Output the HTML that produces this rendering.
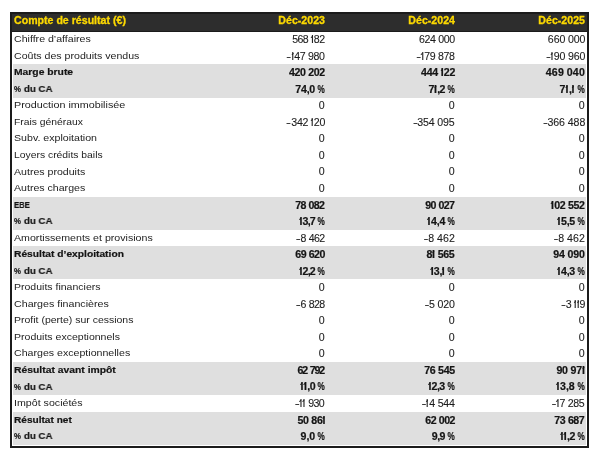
<!DOCTYPE html><html><head><meta charset="utf-8"><style>
html,body{margin:0;padding:0;background:#fff;width:600px;height:457px;overflow:hidden;position:relative}
.t{position:absolute;will-change:transform;font-family:"Liberation Sans",sans-serif;font-size:9.8px;line-height:16px;white-space:pre;color:#1c1c1c}
.b{font-weight:bold;color:#141414}
.l{transform-origin:0 50%}
.r{text-align:right}
.i1{position:relative}
.i1::before{content:"";position:absolute;left:-0.7px;top:2.0px;width:2.0px;height:1.0px;background:currentColor;transform:rotate(-40deg);transform-origin:100% 0}
.one{display:inline-block;position:relative;height:6.8px}
.one::before{content:"";position:absolute;right:0.8px;bottom:0;width:1.0px;height:6.8px;background:currentColor}
.one::after{content:"";position:absolute;right:1.6px;top:0.35px;width:1.2px;height:1.0px;background:currentColor;transform:rotate(-38deg);transform-origin:100% 0}
.b .one::before{width:1.6px;right:0.7000000000000001px}
.b .one::after{right:2.1000000000000005px;height:1.6px}
.b.l{-webkit-text-stroke:0.2px #141414}
.b.r:not(.h){-webkit-text-stroke:0.2px #141414}
.t.r:not(.b){-webkit-text-stroke:0.1px #1c1c1c}
.g{position:absolute;background:#dfdfdf}
.h{color:#fcd800;-webkit-text-stroke:0.3px #fcd800}
</style></head><body>
<div style="position:absolute;left:10px;top:12px;width:579px;height:436px;border:2px solid #1b1b1b;background:#fff;box-sizing:border-box"></div>
<div style="position:absolute;left:10px;top:12px;width:579px;height:20.00px;background:#1b1b1b"></div>
<div style="position:absolute;left:12px;top:14px;width:575px;height:17.00px;background:#2d2d2d"></div>
<div class="g" style="left:13px;top:64.48px;width:573px;height:16.54px"></div>
<div class="g" style="left:13px;top:81.02px;width:573px;height:16.54px"></div>
<div class="g" style="left:13px;top:196.80px;width:573px;height:16.54px"></div>
<div class="g" style="left:13px;top:213.34px;width:573px;height:16.54px"></div>
<div class="g" style="left:13px;top:246.42px;width:573px;height:16.54px"></div>
<div class="g" style="left:13px;top:262.96px;width:573px;height:16.54px"></div>
<div class="g" style="left:13px;top:362.20px;width:573px;height:16.54px"></div>
<div class="g" style="left:13px;top:378.74px;width:573px;height:16.54px"></div>
<div class="g" style="left:13px;top:411.82px;width:573px;height:16.54px"></div>
<div class="g" style="left:13px;top:428.36px;width:573px;height:16.54px"></div>
<div class="t b h" style="left:14.0px;top:12.73px;font-size:10.0px;transform:scaleX(1.06);transform-origin:0 50%">Compte de résultat (€)</div>
<div class="t b h r" style="right:274.70px;top:12.73px;font-size:10.0px;transform:scaleX(1.06);transform-origin:100% 50%">Déc-2023</div>
<div class="t b h r" style="right:144.70px;top:12.73px;font-size:10.0px;transform:scaleX(1.06);transform-origin:100% 50%">Déc-2024</div>
<div class="t b h r" style="right:14.70px;top:12.73px;font-size:10.0px;transform:scaleX(1.06);transform-origin:100% 50%">Déc-2025</div>
<div class="t l" style="left:14.0px;top:31.20px;font-size:9.8px;transform:scaleX(1.0818)">Chiffre d’affaires</div>
<div class="t r" style="right:275.00px;top:32.13px;font-size:10.0px;transform:scaleX(1.06);transform-origin:100% 50%"><span style="letter-spacing:-0.54px">5</span><span style="letter-spacing:-0.54px">6</span><span style="letter-spacing:-0.54px">8</span><span style="letter-spacing:-0.20px">&nbsp;</span><span class="i1" style="letter-spacing:-0.04px;margin-left:0.0px">I</span><span style="letter-spacing:-0.54px">8</span>2</div>
<div class="t r" style="right:145.00px;top:32.13px;font-size:10.0px;transform:scaleX(1.06);transform-origin:100% 50%"><span style="letter-spacing:-0.36px">6</span><span style="letter-spacing:-0.36px">2</span><span style="letter-spacing:-0.36px">4</span><span style="letter-spacing:-0.20px">&nbsp;</span><span style="letter-spacing:-0.36px">0</span><span style="letter-spacing:-0.36px">0</span>0</div>
<div class="t r" style="right:15.00px;top:32.13px;font-size:10.0px;transform:scaleX(1.06);transform-origin:100% 50%"><span style="letter-spacing:-0.10px">6</span><span style="letter-spacing:-0.10px">6</span><span style="letter-spacing:-0.10px">0</span><span style="letter-spacing:-0.20px">&nbsp;</span><span style="letter-spacing:-0.10px">0</span><span style="letter-spacing:-0.10px">0</span>0</div>
<div class="t l" style="left:14.0px;top:47.74px;font-size:9.8px;transform:scaleX(1.0806)">Coûts des produits vendus</div>
<div class="t r" style="right:275.00px;top:48.67px;font-size:10.0px;transform:scaleX(1.06);transform-origin:100% 50%"><span style="display:inline-block;width:4.20px;text-align:center;margin-right:0.0px"><span style="display:inline-block;transform:scaleX(1.4)">-</span></span><span class="i1" style="letter-spacing:0.10px;margin-left:0.0px">I</span><span style="letter-spacing:-0.40px">4</span><span style="letter-spacing:-0.40px">7</span><span style="letter-spacing:-0.20px">&nbsp;</span><span style="letter-spacing:-0.40px">9</span><span style="letter-spacing:-0.40px">8</span>0</div>
<div class="t r" style="right:145.00px;top:48.67px;font-size:10.0px;transform:scaleX(1.06);transform-origin:100% 50%"><span style="display:inline-block;width:4.18px;text-align:center;margin-right:0.0px"><span style="display:inline-block;transform:scaleX(1.4)">-</span></span><span class="i1" style="letter-spacing:0.08px;margin-left:0.0px">I</span><span style="letter-spacing:-0.42px">7</span><span style="letter-spacing:-0.42px">9</span><span style="letter-spacing:-0.20px">&nbsp;</span><span style="letter-spacing:-0.42px">8</span><span style="letter-spacing:-0.42px">7</span>8</div>
<div class="t r" style="right:15.00px;top:48.67px;font-size:10.0px;transform:scaleX(1.06);transform-origin:100% 50%"><span style="display:inline-block;width:4.45px;text-align:center;margin-right:0.0px"><span style="display:inline-block;transform:scaleX(1.4)">-</span></span><span class="i1" style="letter-spacing:0.35px;margin-left:0.0px">I</span><span style="letter-spacing:-0.15px">9</span><span style="letter-spacing:-0.15px">0</span><span style="letter-spacing:-0.20px">&nbsp;</span><span style="letter-spacing:-0.15px">9</span><span style="letter-spacing:-0.15px">6</span>0</div>
<div class="t b l" style="left:14.0px;top:64.28px;font-size:9.8px;transform:scaleX(1.0541)">Marge brute</div>
<div class="t b r" style="right:275.00px;top:65.21px;font-size:10.0px;transform:scaleX(1.06);transform-origin:100% 50%"><span style="letter-spacing:-0.38px">4</span><span style="letter-spacing:-0.38px">2</span><span style="letter-spacing:-0.38px">0</span><span style="letter-spacing:-0.20px">&nbsp;</span><span style="letter-spacing:-0.38px">2</span><span style="letter-spacing:-0.38px">0</span>2</div>
<div class="t b r" style="right:145.00px;top:65.21px;font-size:10.0px;transform:scaleX(1.06);transform-origin:100% 50%"><span style="letter-spacing:-0.28px">4</span><span style="letter-spacing:-0.28px">4</span><span style="letter-spacing:-0.28px">4</span><span style="letter-spacing:-0.20px">&nbsp;</span><span class="i1" style="letter-spacing:0.22px;margin-left:0.0px">I</span><span style="letter-spacing:-0.28px">2</span>2</div>
<div class="t b r" style="right:15.00px;top:65.21px;font-size:10.0px;transform:scaleX(1.06);transform-origin:100% 50%"><span style="letter-spacing:0.16px">4</span><span style="letter-spacing:0.16px">6</span><span style="letter-spacing:0.16px">9</span><span style="letter-spacing:-0.20px">&nbsp;</span><span style="letter-spacing:0.16px">0</span><span style="letter-spacing:0.16px">4</span>0</div>
<div class="t b l" style="left:14.0px;top:80.82px;font-size:9.8px;transform:scaleX(0.9917)"><span style="display:inline-block;width:7.2px"><span style="display:inline-block;transform:scaleX(0.8);transform-origin:0 50%">%</span></span> du CA</div>
<div class="t b r" style="right:275.00px;top:81.75px;font-size:10.0px;transform:scaleX(1.06);transform-origin:100% 50%"><span style="letter-spacing:-0.15px">7</span><span style="letter-spacing:-0.15px">4</span><span style="letter-spacing:-0.45px">,</span><span style="letter-spacing:-0.15px">0</span><span style="letter-spacing:-0.50px">&nbsp;</span><span style="display:inline-block;width:7.0px"><span style="display:inline-block;transform:scaleX(0.77);transform-origin:0 50%">%</span></span></div>
<div class="t b r" style="right:145.00px;top:81.75px;font-size:10.0px;transform:scaleX(1.06);transform-origin:100% 50%"><span style="letter-spacing:-0.33px">7</span><span class="i1" style="letter-spacing:0.17px;margin-left:0.0px">I</span><span style="letter-spacing:-0.63px">,</span><span style="letter-spacing:-0.33px">2</span><span style="letter-spacing:-0.50px">&nbsp;</span><span style="display:inline-block;width:7.0px"><span style="display:inline-block;transform:scaleX(0.77);transform-origin:0 50%">%</span></span></div>
<div class="t b r" style="right:15.00px;top:81.75px;font-size:10.0px;transform:scaleX(1.06);transform-origin:100% 50%">7<span class="i1" style="letter-spacing:0.50px;margin-left:0.0px">I</span><span style="letter-spacing:-0.30px">,</span><span class="i1" style="letter-spacing:0.50px;margin-left:0.0px">I</span><span style="letter-spacing:-0.50px">&nbsp;</span><span style="display:inline-block;width:7.0px"><span style="display:inline-block;transform:scaleX(0.77);transform-origin:0 50%">%</span></span></div>
<div class="t l" style="left:14.0px;top:97.36px;font-size:9.8px;transform:scaleX(1.0983)">Production immobilisée</div>
<div class="t r" style="right:275.00px;top:98.30px;font-size:10.0px;transform:scaleX(1.06);transform-origin:100% 50%">0</div>
<div class="t r" style="right:145.00px;top:98.30px;font-size:10.0px;transform:scaleX(1.06);transform-origin:100% 50%">0</div>
<div class="t r" style="right:15.00px;top:98.30px;font-size:10.0px;transform:scaleX(1.06);transform-origin:100% 50%">0</div>
<div class="t l" style="left:14.0px;top:113.90px;font-size:9.8px;transform:scaleX(1.0544)">Frais généraux</div>
<div class="t r" style="right:275.00px;top:114.83px;font-size:10.0px;transform:scaleX(1.06);transform-origin:100% 50%"><span style="display:inline-block;width:4.27px;text-align:center;margin-right:0.0px"><span style="display:inline-block;transform:scaleX(1.4)">-</span></span><span style="letter-spacing:-0.33px">3</span><span style="letter-spacing:-0.33px">4</span><span style="letter-spacing:-0.33px">2</span><span style="letter-spacing:-0.20px">&nbsp;</span><span class="i1" style="letter-spacing:0.17px;margin-left:0.0px">I</span><span style="letter-spacing:-0.33px">2</span>0</div>
<div class="t r" style="right:145.00px;top:114.83px;font-size:10.0px;transform:scaleX(1.06);transform-origin:100% 50%"><span style="display:inline-block;width:4.43px;text-align:center;margin-right:0.0px"><span style="display:inline-block;transform:scaleX(1.4)">-</span></span><span style="letter-spacing:-0.17px">3</span><span style="letter-spacing:-0.17px">5</span><span style="letter-spacing:-0.17px">4</span><span style="letter-spacing:-0.20px">&nbsp;</span><span style="letter-spacing:-0.17px">0</span><span style="letter-spacing:-0.17px">9</span>5</div>
<div class="t r" style="right:15.00px;top:114.83px;font-size:10.0px;transform:scaleX(1.06);transform-origin:100% 50%"><span style="display:inline-block;width:4.55px;text-align:center;margin-right:0.0px"><span style="display:inline-block;transform:scaleX(1.4)">-</span></span><span style="letter-spacing:-0.05px">3</span><span style="letter-spacing:-0.05px">6</span><span style="letter-spacing:-0.05px">6</span><span style="letter-spacing:-0.20px">&nbsp;</span><span style="letter-spacing:-0.05px">4</span><span style="letter-spacing:-0.05px">8</span>8</div>
<div class="t l" style="left:14.0px;top:130.44px;font-size:9.8px;transform:scaleX(1.0836)">Subv. exploitation</div>
<div class="t r" style="right:275.00px;top:131.37px;font-size:10.0px;transform:scaleX(1.06);transform-origin:100% 50%">0</div>
<div class="t r" style="right:145.00px;top:131.37px;font-size:10.0px;transform:scaleX(1.06);transform-origin:100% 50%">0</div>
<div class="t r" style="right:15.00px;top:131.37px;font-size:10.0px;transform:scaleX(1.06);transform-origin:100% 50%">0</div>
<div class="t l" style="left:14.0px;top:146.98px;font-size:9.8px;transform:scaleX(1.0570)">Loyers crédits bails</div>
<div class="t r" style="right:275.00px;top:147.91px;font-size:10.0px;transform:scaleX(1.06);transform-origin:100% 50%">0</div>
<div class="t r" style="right:145.00px;top:147.91px;font-size:10.0px;transform:scaleX(1.06);transform-origin:100% 50%">0</div>
<div class="t r" style="right:15.00px;top:147.91px;font-size:10.0px;transform:scaleX(1.06);transform-origin:100% 50%">0</div>
<div class="t l" style="left:14.0px;top:163.52px;font-size:9.8px;transform:scaleX(1.0807)">Autres produits</div>
<div class="t r" style="right:275.00px;top:164.45px;font-size:10.0px;transform:scaleX(1.06);transform-origin:100% 50%">0</div>
<div class="t r" style="right:145.00px;top:164.45px;font-size:10.0px;transform:scaleX(1.06);transform-origin:100% 50%">0</div>
<div class="t r" style="right:15.00px;top:164.45px;font-size:10.0px;transform:scaleX(1.06);transform-origin:100% 50%">0</div>
<div class="t l" style="left:14.0px;top:180.06px;font-size:9.8px;transform:scaleX(1.0807)">Autres charges</div>
<div class="t r" style="right:275.00px;top:180.99px;font-size:10.0px;transform:scaleX(1.06);transform-origin:100% 50%">0</div>
<div class="t r" style="right:145.00px;top:180.99px;font-size:10.0px;transform:scaleX(1.06);transform-origin:100% 50%">0</div>
<div class="t r" style="right:15.00px;top:180.99px;font-size:10.0px;transform:scaleX(1.06);transform-origin:100% 50%">0</div>
<div class="t b l" style="left:14.0px;top:196.60px;font-size:9.8px;transform:scaleX(0.7888)">EBE</div>
<div class="t b r" style="right:275.00px;top:197.53px;font-size:10.0px;transform:scaleX(1.06);transform-origin:100% 50%"><span style="letter-spacing:-0.65px">7</span><span style="letter-spacing:-0.65px">8</span><span style="letter-spacing:-0.20px">&nbsp;</span><span style="letter-spacing:-0.65px">0</span><span style="letter-spacing:-0.65px">8</span>2</div>
<div class="t b r" style="right:145.00px;top:197.53px;font-size:10.0px;transform:scaleX(1.06);transform-origin:100% 50%"><span style="letter-spacing:-0.65px">9</span><span style="letter-spacing:-0.65px">0</span><span style="letter-spacing:-0.20px">&nbsp;</span><span style="letter-spacing:-0.65px">0</span><span style="letter-spacing:-0.65px">2</span>7</div>
<div class="t b r" style="right:15.00px;top:197.53px;font-size:10.0px;transform:scaleX(1.06);transform-origin:100% 50%"><span class="i1" style="letter-spacing:0.14px;margin-left:0.0px">I</span><span style="letter-spacing:-0.36px">0</span><span style="letter-spacing:-0.36px">2</span><span style="letter-spacing:-0.20px">&nbsp;</span><span style="letter-spacing:-0.36px">5</span><span style="letter-spacing:-0.36px">5</span>2</div>
<div class="t b l" style="left:14.0px;top:213.14px;font-size:9.8px;transform:scaleX(0.9917)"><span style="display:inline-block;width:7.2px"><span style="display:inline-block;transform:scaleX(0.8);transform-origin:0 50%">%</span></span> du CA</div>
<div class="t b r" style="right:275.00px;top:214.07px;font-size:10.0px;transform:scaleX(1.06);transform-origin:100% 50%"><span class="i1" style="letter-spacing:-0.08px;margin-left:0.0px">I</span><span style="letter-spacing:-0.58px">3</span><span style="letter-spacing:-0.88px">,</span><span style="letter-spacing:-0.58px">7</span><span style="letter-spacing:-0.50px">&nbsp;</span><span style="display:inline-block;width:7.0px"><span style="display:inline-block;transform:scaleX(0.77);transform-origin:0 50%">%</span></span></div>
<div class="t b r" style="right:145.00px;top:214.07px;font-size:10.0px;transform:scaleX(1.06);transform-origin:100% 50%"><span class="i1" style="letter-spacing:0.48px;margin-left:0.0px">I</span><span style="letter-spacing:-0.02px">4</span><span style="letter-spacing:-0.32px">,</span><span style="letter-spacing:-0.02px">4</span><span style="letter-spacing:-0.50px">&nbsp;</span><span style="display:inline-block;width:7.0px"><span style="display:inline-block;transform:scaleX(0.77);transform-origin:0 50%">%</span></span></div>
<div class="t b r" style="right:15.00px;top:214.07px;font-size:10.0px;transform:scaleX(1.06);transform-origin:100% 50%"><span class="i1" style="letter-spacing:0.47px;margin-left:0.0px">I</span><span style="letter-spacing:-0.03px">5</span><span style="letter-spacing:-0.33px">,</span><span style="letter-spacing:-0.03px">5</span><span style="letter-spacing:-0.50px">&nbsp;</span><span style="display:inline-block;width:7.0px"><span style="display:inline-block;transform:scaleX(0.77);transform-origin:0 50%">%</span></span></div>
<div class="t l" style="left:14.0px;top:229.68px;font-size:9.8px;transform:scaleX(1.0844)">Amortissements et provisions</div>
<div class="t r" style="right:275.00px;top:230.61px;font-size:10.0px;transform:scaleX(1.06);transform-origin:100% 50%"><span style="display:inline-block;width:4.00px;text-align:center;margin-right:0.0px"><span style="display:inline-block;transform:scaleX(1.4)">-</span></span><span style="letter-spacing:-0.60px">8</span><span style="letter-spacing:-0.20px">&nbsp;</span><span style="letter-spacing:-0.60px">4</span><span style="letter-spacing:-0.60px">6</span>2</div>
<div class="t r" style="right:145.00px;top:230.61px;font-size:10.0px;transform:scaleX(1.06);transform-origin:100% 50%"><span style="display:inline-block;width:4.72px;text-align:center;margin-right:0.0px"><span style="display:inline-block;transform:scaleX(1.4)">-</span></span><span style="letter-spacing:0.12px">8</span><span style="letter-spacing:-0.20px">&nbsp;</span><span style="letter-spacing:0.12px">4</span><span style="letter-spacing:0.12px">6</span>2</div>
<div class="t r" style="right:15.00px;top:230.61px;font-size:10.0px;transform:scaleX(1.06);transform-origin:100% 50%"><span style="display:inline-block;width:4.72px;text-align:center;margin-right:0.0px"><span style="display:inline-block;transform:scaleX(1.4)">-</span></span><span style="letter-spacing:0.12px">8</span><span style="letter-spacing:-0.20px">&nbsp;</span><span style="letter-spacing:0.12px">4</span><span style="letter-spacing:0.12px">6</span>2</div>
<div class="t b l" style="left:14.0px;top:246.22px;font-size:9.8px;transform:scaleX(1.0461)">Résultat d’exploitation</div>
<div class="t b r" style="right:275.00px;top:247.16px;font-size:10.0px;transform:scaleX(1.06);transform-origin:100% 50%"><span style="letter-spacing:-0.52px">6</span><span style="letter-spacing:-0.52px">9</span><span style="letter-spacing:-0.20px">&nbsp;</span><span style="letter-spacing:-0.52px">6</span><span style="letter-spacing:-0.52px">2</span>0</div>
<div class="t b r" style="right:145.00px;top:247.16px;font-size:10.0px;transform:scaleX(1.06);transform-origin:100% 50%"><span style="letter-spacing:-0.35px">8</span><span class="i1" style="letter-spacing:0.15px;margin-left:0.0px">I</span><span style="letter-spacing:-0.20px">&nbsp;</span><span style="letter-spacing:-0.35px">5</span><span style="letter-spacing:-0.35px">6</span>5</div>
<div class="t b r" style="right:15.00px;top:247.16px;font-size:10.0px;transform:scaleX(1.06);transform-origin:100% 50%"><span style="letter-spacing:-0.17px">9</span><span style="letter-spacing:-0.17px">4</span><span style="letter-spacing:-0.20px">&nbsp;</span><span style="letter-spacing:-0.17px">0</span><span style="letter-spacing:-0.17px">9</span>0</div>
<div class="t b l" style="left:14.0px;top:262.76px;font-size:9.8px;transform:scaleX(0.9917)"><span style="display:inline-block;width:7.2px"><span style="display:inline-block;transform:scaleX(0.8);transform-origin:0 50%">%</span></span> du CA</div>
<div class="t b r" style="right:275.00px;top:263.69px;font-size:10.0px;transform:scaleX(1.06);transform-origin:100% 50%"><span class="i1" style="letter-spacing:-0.08px;margin-left:0.0px">I</span><span style="letter-spacing:-0.58px">2</span><span style="letter-spacing:-0.88px">,</span><span style="letter-spacing:-0.58px">2</span><span style="letter-spacing:-0.50px">&nbsp;</span><span style="display:inline-block;width:7.0px"><span style="display:inline-block;transform:scaleX(0.77);transform-origin:0 50%">%</span></span></div>
<div class="t b r" style="right:145.00px;top:263.69px;font-size:10.0px;transform:scaleX(1.06);transform-origin:100% 50%"><span class="i1" style="letter-spacing:0.25px;margin-left:0.0px">I</span><span style="letter-spacing:-0.25px">3</span><span style="letter-spacing:-0.55px">,</span><span class="i1" style="letter-spacing:0.25px;margin-left:0.0px">I</span><span style="letter-spacing:-0.50px">&nbsp;</span><span style="display:inline-block;width:7.0px"><span style="display:inline-block;transform:scaleX(0.77);transform-origin:0 50%">%</span></span></div>
<div class="t b r" style="right:15.00px;top:263.69px;font-size:10.0px;transform:scaleX(1.06);transform-origin:100% 50%"><span class="i1" style="letter-spacing:0.47px;margin-left:0.0px">I</span><span style="letter-spacing:-0.03px">4</span><span style="letter-spacing:-0.33px">,</span><span style="letter-spacing:-0.03px">3</span><span style="letter-spacing:-0.50px">&nbsp;</span><span style="display:inline-block;width:7.0px"><span style="display:inline-block;transform:scaleX(0.77);transform-origin:0 50%">%</span></span></div>
<div class="t l" style="left:14.0px;top:279.30px;font-size:9.8px;transform:scaleX(1.0737)">Produits financiers</div>
<div class="t r" style="right:275.00px;top:280.24px;font-size:10.0px;transform:scaleX(1.06);transform-origin:100% 50%">0</div>
<div class="t r" style="right:145.00px;top:280.24px;font-size:10.0px;transform:scaleX(1.06);transform-origin:100% 50%">0</div>
<div class="t r" style="right:15.00px;top:280.24px;font-size:10.0px;transform:scaleX(1.06);transform-origin:100% 50%">0</div>
<div class="t l" style="left:14.0px;top:295.84px;font-size:9.8px;transform:scaleX(1.0881)">Charges financières</div>
<div class="t r" style="right:275.00px;top:296.77px;font-size:10.0px;transform:scaleX(1.06);transform-origin:100% 50%"><span style="display:inline-block;width:4.00px;text-align:center;margin-right:0.0px"><span style="display:inline-block;transform:scaleX(1.4)">-</span></span><span style="letter-spacing:-0.60px">6</span><span style="letter-spacing:-0.20px">&nbsp;</span><span style="letter-spacing:-0.60px">8</span><span style="letter-spacing:-0.60px">2</span>8</div>
<div class="t r" style="right:145.00px;top:296.77px;font-size:10.0px;transform:scaleX(1.06);transform-origin:100% 50%"><span style="display:inline-block;width:4.45px;text-align:center;margin-right:0.0px"><span style="display:inline-block;transform:scaleX(1.4)">-</span></span><span style="letter-spacing:-0.15px">5</span><span style="letter-spacing:-0.20px">&nbsp;</span><span style="letter-spacing:-0.15px">0</span><span style="letter-spacing:-0.15px">2</span>0</div>
<div class="t r" style="right:15.00px;top:296.77px;font-size:10.0px;transform:scaleX(1.06);transform-origin:100% 50%"><span style="display:inline-block;width:3.97px;text-align:center;margin-right:0.0px"><span style="display:inline-block;transform:scaleX(1.4)">-</span></span><span style="letter-spacing:-0.62px">3</span><span style="letter-spacing:-0.20px">&nbsp;</span><span class="i1" style="letter-spacing:-0.12px;margin-left:0.0px">I</span><span class="i1" style="letter-spacing:-0.12px;margin-left:0.0px">I</span>9</div>
<div class="t l" style="left:14.0px;top:312.38px;font-size:9.8px;transform:scaleX(1.0702)">Profit (perte) sur cessions</div>
<div class="t r" style="right:275.00px;top:313.31px;font-size:10.0px;transform:scaleX(1.06);transform-origin:100% 50%">0</div>
<div class="t r" style="right:145.00px;top:313.31px;font-size:10.0px;transform:scaleX(1.06);transform-origin:100% 50%">0</div>
<div class="t r" style="right:15.00px;top:313.31px;font-size:10.0px;transform:scaleX(1.06);transform-origin:100% 50%">0</div>
<div class="t l" style="left:14.0px;top:328.92px;font-size:9.8px;transform:scaleX(1.0745)">Produits exceptionnels</div>
<div class="t r" style="right:275.00px;top:329.85px;font-size:10.0px;transform:scaleX(1.06);transform-origin:100% 50%">0</div>
<div class="t r" style="right:145.00px;top:329.85px;font-size:10.0px;transform:scaleX(1.06);transform-origin:100% 50%">0</div>
<div class="t r" style="right:15.00px;top:329.85px;font-size:10.0px;transform:scaleX(1.06);transform-origin:100% 50%">0</div>
<div class="t l" style="left:14.0px;top:345.46px;font-size:9.8px;transform:scaleX(1.0829)">Charges exceptionnelles</div>
<div class="t r" style="right:275.00px;top:346.39px;font-size:10.0px;transform:scaleX(1.06);transform-origin:100% 50%">0</div>
<div class="t r" style="right:145.00px;top:346.39px;font-size:10.0px;transform:scaleX(1.06);transform-origin:100% 50%">0</div>
<div class="t r" style="right:15.00px;top:346.39px;font-size:10.0px;transform:scaleX(1.06);transform-origin:100% 50%">0</div>
<div class="t b l" style="left:14.0px;top:362.00px;font-size:9.8px;transform:scaleX(1.0566)">Résultat avant impôt</div>
<div class="t b r" style="right:275.00px;top:362.93px;font-size:10.0px;transform:scaleX(1.06);transform-origin:100% 50%"><span style="letter-spacing:-1.05px">6</span><span style="letter-spacing:-1.05px">2</span><span style="letter-spacing:-0.20px">&nbsp;</span><span style="letter-spacing:-1.05px">7</span><span style="letter-spacing:-1.05px">9</span>2</div>
<div class="t b r" style="right:145.00px;top:362.93px;font-size:10.0px;transform:scaleX(1.06);transform-origin:100% 50%"><span style="letter-spacing:-0.33px">7</span><span style="letter-spacing:-0.33px">6</span><span style="letter-spacing:-0.20px">&nbsp;</span><span style="letter-spacing:-0.33px">5</span><span style="letter-spacing:-0.33px">4</span>5</div>
<div class="t b r" style="right:15.00px;top:362.93px;font-size:10.0px;transform:scaleX(1.06);transform-origin:100% 50%"><span style="letter-spacing:-0.15px">9</span><span style="letter-spacing:-0.15px">0</span><span style="letter-spacing:-0.20px">&nbsp;</span><span style="letter-spacing:-0.15px">9</span><span style="letter-spacing:-0.15px">7</span><span class="i1" style="letter-spacing:0.00px;margin-left:0.0px">I</span></div>
<div class="t b l" style="left:14.0px;top:378.54px;font-size:9.8px;transform:scaleX(0.9917)"><span style="display:inline-block;width:7.2px"><span style="display:inline-block;transform:scaleX(0.8);transform-origin:0 50%">%</span></span> du CA</div>
<div class="t b r" style="right:275.00px;top:379.47px;font-size:10.0px;transform:scaleX(1.06);transform-origin:100% 50%"><span class="i1" style="letter-spacing:0.38px;margin-left:0.0px">I</span><span class="i1" style="letter-spacing:0.38px;margin-left:0.0px">I</span><span style="letter-spacing:-0.42px">,</span><span style="letter-spacing:-0.12px">0</span><span style="letter-spacing:-0.50px">&nbsp;</span><span style="display:inline-block;width:7.0px"><span style="display:inline-block;transform:scaleX(0.77);transform-origin:0 50%">%</span></span></div>
<div class="t b r" style="right:145.00px;top:379.47px;font-size:10.0px;transform:scaleX(1.06);transform-origin:100% 50%"><span class="i1" style="letter-spacing:0.12px;margin-left:0.0px">I</span><span style="letter-spacing:-0.38px">2</span><span style="letter-spacing:-0.68px">,</span><span style="letter-spacing:-0.38px">3</span><span style="letter-spacing:-0.50px">&nbsp;</span><span style="display:inline-block;width:7.0px"><span style="display:inline-block;transform:scaleX(0.77);transform-origin:0 50%">%</span></span></div>
<div class="t b r" style="right:15.00px;top:379.47px;font-size:10.0px;transform:scaleX(1.06);transform-origin:100% 50%"><span class="i1" style="letter-spacing:0.60px;margin-left:0.0px">I</span><span style="letter-spacing:0.10px">3</span><span style="letter-spacing:-0.20px">,</span><span style="letter-spacing:0.10px">8</span><span style="letter-spacing:-0.50px">&nbsp;</span><span style="display:inline-block;width:7.0px"><span style="display:inline-block;transform:scaleX(0.77);transform-origin:0 50%">%</span></span></div>
<div class="t l" style="left:14.0px;top:395.08px;font-size:9.8px;transform:scaleX(1.0863)">Impôt sociétés</div>
<div class="t r" style="right:275.00px;top:396.01px;font-size:10.0px;transform:scaleX(1.06);transform-origin:100% 50%"><span style="display:inline-block;width:4.06px;text-align:center;margin-right:0.0px"><span style="display:inline-block;transform:scaleX(1.4)">-</span></span><span class="i1" style="letter-spacing:-0.04px;margin-left:0.0px">I</span><span class="i1" style="letter-spacing:-0.04px;margin-left:0.0px">I</span><span style="letter-spacing:-0.20px">&nbsp;</span><span style="letter-spacing:-0.54px">9</span><span style="letter-spacing:-0.54px">3</span>0</div>
<div class="t r" style="right:145.00px;top:396.01px;font-size:10.0px;transform:scaleX(1.06);transform-origin:100% 50%"><span style="display:inline-block;width:4.46px;text-align:center;margin-right:0.0px"><span style="display:inline-block;transform:scaleX(1.4)">-</span></span><span class="i1" style="letter-spacing:0.36px;margin-left:0.0px">I</span><span style="letter-spacing:-0.14px">4</span><span style="letter-spacing:-0.20px">&nbsp;</span><span style="letter-spacing:-0.14px">5</span><span style="letter-spacing:-0.14px">4</span>4</div>
<div class="t r" style="right:15.00px;top:396.01px;font-size:10.0px;transform:scaleX(1.06);transform-origin:100% 50%"><span style="display:inline-block;width:4.18px;text-align:center;margin-right:0.0px"><span style="display:inline-block;transform:scaleX(1.4)">-</span></span><span class="i1" style="letter-spacing:0.08px;margin-left:0.0px">I</span><span style="letter-spacing:-0.42px">7</span><span style="letter-spacing:-0.20px">&nbsp;</span><span style="letter-spacing:-0.42px">2</span><span style="letter-spacing:-0.42px">8</span>5</div>
<div class="t b l" style="left:14.0px;top:411.62px;font-size:9.8px;transform:scaleX(1.0310)">Résultat net</div>
<div class="t b r" style="right:275.00px;top:412.55px;font-size:10.0px;transform:scaleX(1.06);transform-origin:100% 50%"><span style="letter-spacing:-0.30px">5</span><span style="letter-spacing:-0.30px">0</span><span style="letter-spacing:-0.20px">&nbsp;</span><span style="letter-spacing:-0.30px">8</span><span style="letter-spacing:-0.30px">6</span><span class="i1" style="letter-spacing:0.00px;margin-left:0.0px">I</span></div>
<div class="t b r" style="right:145.00px;top:412.55px;font-size:10.0px;transform:scaleX(1.06);transform-origin:100% 50%"><span style="letter-spacing:-0.50px">6</span><span style="letter-spacing:-0.50px">2</span><span style="letter-spacing:-0.20px">&nbsp;</span><span style="letter-spacing:-0.50px">0</span><span style="letter-spacing:-0.50px">0</span>2</div>
<div class="t b r" style="right:15.00px;top:412.55px;font-size:10.0px;transform:scaleX(1.06);transform-origin:100% 50%"><span style="letter-spacing:-0.45px">7</span><span style="letter-spacing:-0.45px">3</span><span style="letter-spacing:-0.20px">&nbsp;</span><span style="letter-spacing:-0.45px">6</span><span style="letter-spacing:-0.45px">8</span>7</div>
<div class="t b l" style="left:14.0px;top:428.16px;font-size:9.8px;transform:scaleX(0.9917)"><span style="display:inline-block;width:7.2px"><span style="display:inline-block;transform:scaleX(0.8);transform-origin:0 50%">%</span></span> du CA</div>
<div class="t b r" style="right:275.00px;top:429.09px;font-size:10.0px;transform:scaleX(1.06);transform-origin:100% 50%"><span style="letter-spacing:0.03px">9</span><span style="letter-spacing:-0.27px">,</span><span style="letter-spacing:0.03px">0</span><span style="letter-spacing:-0.50px">&nbsp;</span><span style="display:inline-block;width:7.0px"><span style="display:inline-block;transform:scaleX(0.77);transform-origin:0 50%">%</span></span></div>
<div class="t b r" style="right:145.00px;top:429.09px;font-size:10.0px;transform:scaleX(1.06);transform-origin:100% 50%"><span style="letter-spacing:-0.33px">9</span><span style="letter-spacing:-0.63px">,</span><span style="letter-spacing:-0.33px">9</span><span style="letter-spacing:-0.50px">&nbsp;</span><span style="display:inline-block;width:7.0px"><span style="display:inline-block;transform:scaleX(0.77);transform-origin:0 50%">%</span></span></div>
<div class="t b r" style="right:15.00px;top:429.09px;font-size:10.0px;transform:scaleX(1.06);transform-origin:100% 50%"><span class="i1" style="letter-spacing:0.28px;margin-left:0.0px">I</span><span class="i1" style="letter-spacing:0.28px;margin-left:0.0px">I</span><span style="letter-spacing:-0.52px">,</span><span style="letter-spacing:-0.22px">2</span><span style="letter-spacing:-0.50px">&nbsp;</span><span style="display:inline-block;width:7.0px"><span style="display:inline-block;transform:scaleX(0.77);transform-origin:0 50%">%</span></span></div>
</body></html>
